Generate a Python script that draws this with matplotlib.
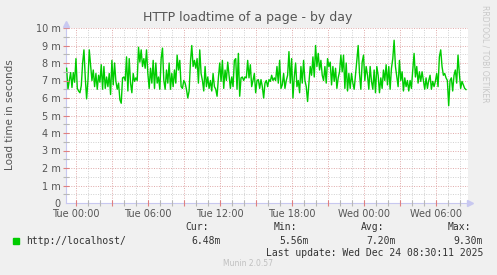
import numpy as np
import matplotlib
matplotlib.use('Agg')
import matplotlib.pyplot as plt

## data (load time in milliseconds, 5-ish minute samples)
load_ms = [
    7.7, 6.5, 7.0, 7.45, 6.6, 7.45, 6.9, 8.25, 6.55, 6.4, 6.3, 6.7, 8.0, 8.75, 7.15, 5.95,
    7.0, 8.75, 7.9, 7.0, 7.6, 6.65, 7.4, 6.5, 7.3, 6.9, 7.9, 6.5, 7.8, 6.55, 7.2, 6.65,
    7.4, 6.2, 8.15, 6.75, 8.0, 6.95, 6.5, 6.85, 5.9, 5.7, 7.15, 7.2, 7.0, 8.35, 6.4, 8.25,
    6.85, 6.3, 7.4, 6.95, 7.15, 7.0, 8.9, 8.05, 8.75, 7.8, 8.25, 7.7, 8.75, 7.4, 6.55, 7.7,
    6.85, 8.15, 6.55, 8.0, 6.85, 7.2, 6.5, 8.25, 8.85, 7.0, 6.5, 7.6, 6.85, 8.0, 6.5, 7.4,
    6.65, 7.6, 6.85, 8.45, 7.6, 8.15, 6.65, 6.55, 7.0, 6.85, 6.5, 6.0, 6.4, 8.05, 9.0, 7.8,
    8.15, 7.7, 8.25, 6.85, 8.75, 7.4, 7.0, 6.4, 7.8, 6.65, 7.2, 6.55, 7.0, 6.4, 7.4, 6.65,
    6.5, 6.1, 7.15, 8.0, 6.95, 8.15, 6.55, 7.6, 7.0, 8.05, 7.3, 6.55, 7.2, 6.65, 8.15, 8.25,
    6.5, 8.55, 6.1, 7.15, 7.2, 7.0, 7.2, 7.15, 8.15, 7.15,
    7.9, 6.65, 7.0, 7.4, 6.3, 7.0, 7.05, 6.55, 7.05, 6.65, 6.0, 6.85, 7.0, 6.65, 7.05, 6.95,
    7.3, 7.0, 7.15, 7.0, 7.8, 6.85, 8.15, 6.55, 6.75, 7.4, 6.55, 7.0, 7.3, 8.65, 6.85, 8.25,
    6.0, 7.2, 8.0, 6.65, 7.0, 6.3, 7.8, 6.85, 8.15, 7.0, 6.65, 5.8, 6.85, 7.8, 7.3, 8.35,
    7.2, 9.0, 7.8, 8.55, 7.6, 8.15, 7.3, 7.0, 7.8, 6.85, 8.25, 7.8, 8.05, 6.75, 7.8, 6.95,
    7.7, 6.55, 7.15, 7.5, 8.45, 7.5, 8.45, 6.55, 8.0, 6.4, 7.4, 6.55, 7.4, 6.85, 6.5, 7.3,
    8.15, 9.0, 7.4, 6.5, 8.05, 8.45, 7.0, 7.8, 7.3, 6.5, 7.8, 6.95, 6.5, 7.6, 6.3, 7.8,
    7.3, 6.3, 7.15, 6.55, 7.6, 7.0, 7.9, 6.75, 7.8, 6.5, 7.7, 8.25, 9.3, 7.8, 7.2, 6.65,
    8.15, 7.0, 7.5, 6.4, 7.15, 6.65, 7.0, 6.4, 7.0, 6.55, 7.6, 8.55, 7.2, 7.8, 6.85, 7.5,
    6.95, 7.5, 7.0, 6.5, 7.15, 6.55, 7.0, 7.3, 6.5, 6.95, 6.65, 6.95, 7.4, 6.65, 8.35, 8.75,
    7.8, 7.3, 7.4, 7.15, 7.0, 5.56, 7.0, 7.15, 6.4, 7.3, 7.6, 6.85, 8.45, 7.4, 6.55, 6.95,
    6.75, 6.55, 6.48,
]
t_first = -0.78   # hours relative to Tue 00:00
t_last = 32.5     # Wed 08:30

tick_hours = [0, 6, 12, 18, 24, 30]
tick_labels = ['Tue 00:00', 'Tue 06:00', 'Tue 12:00', 'Tue 18:00', 'Wed 00:00', 'Wed 06:00']
y_ticks = list(range(11))
y_labels = ['0'] + ['%d m' % v for v in range(1, 11)]

series_name = 'http://localhost/'
cur, vmin, avg, vmax = '6.48m', '5.56m', '7.20m', '9.30m'
last_update = 'Last update: Wed Dec 24 08:30:11 2025'

##
t = np.linspace(t_first, t_last, len(load_ms))

W, H = 497, 275
bg = '#f0f0f0'
txt = '#555555'
red_grid = '#e0a8a8'
gray_grid = '#d0d0d0'
fig = plt.figure(figsize=(W / 100, H / 100), dpi=100, facecolor=bg)
ax = fig.add_axes([66 / W, (H - 203) / H, (468 - 66) / W, (203 - 28) / H])
ax.set_facecolor('white')

ax.set_xlim(-10 / 12, 392 / 12)
ax.set_ylim(0, 10)

# grid: minor gray, major red-ish, all dotted
hours = np.arange(0, 33, 1)
halves = np.arange(0.5, 10.01, 0.5)
for h in hours:
    ax.axvline(h, color=red_grid if h % 3 == 0 else gray_grid, lw=0.7,
               ls=(0, (1, 1.5)), zorder=1)
for v in halves:
    ax.axhline(v, color=red_grid if v % 1 == 0 else gray_grid, lw=0.7,
               ls=(0, (1, 1.5)), zorder=1)

# little tick marks on the axes
maj_h = hours[hours % 3 == 0]
min_h = hours[hours % 3 != 0]
ax.plot(min_h, np.zeros(len(min_h)), ls='none', marker='|', ms=4, mew=0.8, color='#b8b8b8',
        clip_on=False, zorder=4)
ax.plot(maj_h, np.zeros(len(maj_h)), ls='none', marker='|', ms=5, mew=0.8, color='#e08080',
        clip_on=False, zorder=4)
x0 = ax.get_xlim()[0]
maj_v = halves[halves % 1 == 0]
min_v = halves[halves % 1 != 0]
ax.plot(np.full(len(min_v), x0), min_v, ls='none', marker='_', ms=4, mew=0.8, color='#b8b8b8',
        clip_on=False, zorder=4)
ax.plot(np.full(len(maj_v), x0), maj_v, ls='none', marker='_', ms=5, mew=0.8, color='#e08080',
        clip_on=False, zorder=4)

ax.plot(t, load_ms, color='#00cc00', lw=1.0, zorder=3)

for s in ['top', 'right']:
    ax.spines[s].set_visible(False)
for s in ['left', 'bottom']:
    ax.spines[s].set_color('#c8c8f0')
    ax.spines[s].set_linewidth(0.8)
# axis arrows
ax.plot([x0], [10.25], marker='^', color='#c8c8f0', ms=5, clip_on=False, zorder=4)
ax.plot([ax.get_xlim()[1] + 0.2], [0], marker='>', color='#c8c8f0', ms=5, clip_on=False, zorder=4)

ax.set_xticks(tick_hours)
ax.set_xticklabels(tick_labels)
ax.set_yticks(y_ticks)
ax.set_yticklabels(y_labels)
ax.tick_params(axis='both', length=0, labelsize=7, labelcolor=txt, pad=4)

fig.text(248 / W, 1 - 18 / H, 'HTTP loadtime of a page - by day', ha='center', va='center',
         fontsize=9, color=txt)
fig.text(10 / W, 1 - 115 / H, 'Load time in seconds', rotation=90, ha='center', va='center',
         fontsize=7.5, color=txt)
fig.text(485 / W, 1 - 5 / H, 'RRDTOOL / TOBI OETIKER', rotation=270, ha='center', va='top',
         fontsize=5.5, color='#c8c8c8')

mono = dict(family='DejaVu Sans Mono', fontsize=7, color='#333333')
fig.patches.append(plt.Rectangle((13 / W, 1 - 243.5 / H), 6 / W, 6 / H, transform=fig.transFigure,
                                 color='#00cc00'))
fig.text(26 / W, 1 - 240.5 / H, series_name, ha='left', va='center', **mono)
for xr, head, val in [(209, 'Cur:', cur), (297, 'Min:', vmin), (384, 'Avg:', avg), (471, 'Max:', vmax)]:
    fig.text(xr / W, 1 - 227.5 / H, head, ha='right', va='center', **mono)
    fig.text((xr + 12) / W, 1 - 240.5 / H, val, ha='right', va='center', **mono)
fig.text(483 / W, 1 - 252.5 / H, last_update, ha='right', va='center', **mono)
fig.text(248 / W, 1 - 264 / H, 'Munin 2.0.57', ha='center', va='center', fontsize=5.5, color='#c0c0c0')

fig.savefig('out.png', dpi=100, facecolor=bg)
